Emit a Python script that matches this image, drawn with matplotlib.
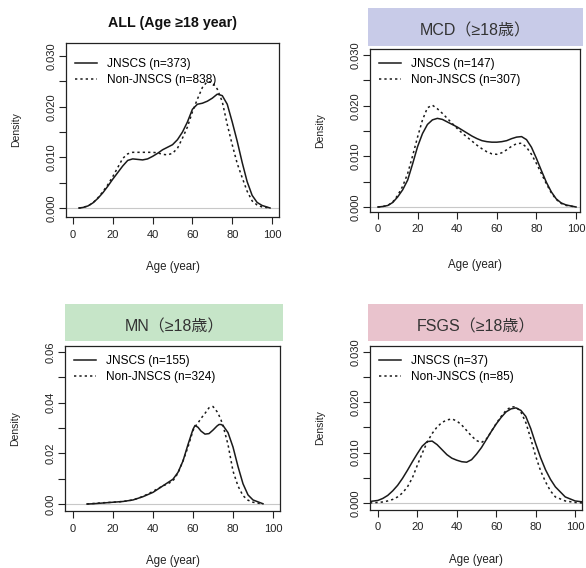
import matplotlib
matplotlib.use("Agg")
import matplotlib.pyplot as plt
from matplotlib.patches import Rectangle

plt.rcParams['font.family'] = ['Liberation Sans', 'DejaVu Sans']

W, H = 586, 568

# ---- data ----
all_age = [3, 5, 7.5, 10, 12.5, 15, 17.5, 20, 22.5, 25, 27.5, 30, 32.5, 35, 37.5, 40, 42.5, 45, 47.5, 50,
           52.5, 55, 57.5, 60, 62.5, 65, 67.5, 70, 72.5, 75, 77.5, 80, 82.5, 85, 87.5, 90, 92.5, 95, 99]
all_jn = [0.0, 0.0001, 0.0004, 0.001, 0.0019, 0.003, 0.0043, 0.0057, 0.007, 0.0083, 0.0094, 0.0097, 0.0096,
          0.0095, 0.0097, 0.0102, 0.0108, 0.0115, 0.012, 0.0125, 0.0135, 0.015, 0.017, 0.0195, 0.0205, 0.0207,
          0.0211, 0.0217, 0.0225, 0.0222, 0.0205, 0.017, 0.0132, 0.009, 0.0052, 0.0025, 0.0011, 0.0005, 0.0]
all_non = [0.0, 0.0001, 0.0004, 0.001, 0.002, 0.0032, 0.0046, 0.0062, 0.008, 0.0098, 0.0107, 0.011, 0.011,
           0.011, 0.011, 0.011, 0.0109, 0.0106, 0.0105, 0.0108, 0.0118, 0.0138, 0.016, 0.019, 0.0215, 0.0238,
           0.025, 0.0248, 0.0235, 0.021, 0.0165, 0.0125, 0.0088, 0.006, 0.0033, 0.0014, 0.0006, 0.0002, 0.0]

mcd_age = [0, 2.5, 5, 7.5, 10, 12.5, 15, 17.5, 20, 22.5, 25, 27.5, 30, 32.5, 35, 37.5, 40, 42.5, 45, 47.5,
           50, 52.5, 55, 57.5, 60, 62.5, 65, 67.5, 70, 72.5, 75, 77.5, 80, 82.5, 85, 87.5, 90, 92.5, 95, 100]
mcd_jn = [0.0, 0.0001, 0.0003, 0.0009, 0.002, 0.0034, 0.0053, 0.0085, 0.0119, 0.0145, 0.0163, 0.0172, 0.0175,
          0.0173, 0.0168, 0.0163, 0.0158, 0.0152, 0.0146, 0.014, 0.0135, 0.0131, 0.0129, 0.0128, 0.0128, 0.0129,
          0.0131, 0.0135, 0.0138, 0.0139, 0.0133, 0.0118, 0.0096, 0.0072, 0.0049, 0.003, 0.0016, 0.0008,
          0.0004, 0.0]
mcd_non = [0.0, 0.0001, 0.0003, 0.001, 0.0023, 0.0041, 0.0066, 0.0101, 0.0138, 0.0172, 0.0196, 0.0201, 0.0194,
           0.0185, 0.0175, 0.0165, 0.0155, 0.0146, 0.0138, 0.013, 0.0122, 0.0115, 0.0109, 0.0105, 0.0104, 0.0107,
           0.0113, 0.012, 0.0125, 0.0126, 0.0118, 0.0104, 0.0086, 0.0066, 0.0046, 0.0028, 0.0015, 0.0007,
           0.0003, 0.0]

mn_age = [7, 10, 15, 20, 25, 30, 35, 40, 45, 47.5, 50, 52.5, 55, 57.5, 60, 61, 62.5, 64, 66, 68, 70, 72, 73,
          74, 75, 77.5, 80, 82.5, 85, 87.5, 90, 95]
mn_jn = [0.0, 0.0001, 0.0004, 0.0007, 0.001, 0.0016, 0.0029, 0.0046, 0.0072, 0.0085, 0.0098, 0.0125, 0.017,
         0.0235, 0.0295, 0.031, 0.0303, 0.0288, 0.0276, 0.0278, 0.0292, 0.0308, 0.0314, 0.0314, 0.031, 0.0282,
         0.0225, 0.0148, 0.008, 0.0036, 0.0016, 0.0001]
mn_non = [0.0, 0.0002, 0.0005, 0.0007, 0.001, 0.0016, 0.003, 0.005, 0.0072, 0.008, 0.0092, 0.0122, 0.017,
          0.0225, 0.029, 0.0305, 0.032, 0.0338, 0.0358, 0.038, 0.0385, 0.0365, 0.035, 0.0332, 0.031, 0.0235,
          0.013, 0.0071, 0.0033, 0.0015, 0.0007, 0.0]

fsgs_age = [-4, 0, 2.5, 5, 7.5, 10, 12.5, 15, 17.5, 20, 22.5, 25, 27.5, 30, 32.5, 35, 37.5, 40, 42.5, 45,
            47.5, 50, 52.5, 55, 57.5, 60, 62.5, 65, 67.5, 70, 72.5, 75, 77.5, 80, 82.5, 85, 87.5, 90, 95,
            100, 104]
fsgs_jn = [0.0003, 0.0005, 0.0009, 0.0015, 0.0024, 0.0035, 0.0049, 0.0065, 0.0082, 0.0098, 0.0113, 0.0122,
           0.0123, 0.0116, 0.0106, 0.0096, 0.0089, 0.0085, 0.0082, 0.0081, 0.0086, 0.0097, 0.011, 0.0126,
           0.0142, 0.0157, 0.017, 0.0181, 0.0187, 0.0189, 0.0184, 0.0172, 0.0148, 0.0118, 0.009, 0.0066,
           0.0047, 0.0032, 0.0012, 0.0004, 0.0002]
fsgs_non = [0.0, 0.0001, 0.0002, 0.0004, 0.0007, 0.0012, 0.002, 0.0032, 0.005, 0.0075, 0.0099, 0.0121,
            0.0138, 0.0151, 0.016, 0.0165, 0.0167, 0.0163, 0.0155, 0.0144, 0.0133, 0.0124, 0.012, 0.0127,
            0.0142, 0.0158, 0.0172, 0.0184, 0.0191, 0.0191, 0.0181, 0.016, 0.0128, 0.0093, 0.0064, 0.0042,
            0.0024, 0.0012, 0.0004, 0.0001, 0.0]

titles = ["ALL (Age \u226518 year)", "MCD\uff08\u226518\u6b73\uff09", "MN\uff08\u226518\u6b73\uff09",
          "FSGS\uff08\u226518\u6b73\uff09"]
labels_jn = ["JNSCS (n=373)", "JNSCS (n=147)", "JNSCS (n=155)", "JNSCS (n=37)"]
labels_non = ["Non-JNSCS (n=838)", "Non-JNSCS (n=307)", "Non-JNSCS (n=324)", "Non-JNSCS (n=85)"]
band_colors = [None, "#c8cbe8", "#c6e5c8", "#e9c3cd"]

xticks = [0, 20, 40, 60, 80, 100]
yticks_a = [0.0, 0.005, 0.010, 0.015, 0.020, 0.025, 0.030]
ylabels_a = ["0.000", "", "0.010", "", "0.020", "", "0.030"]
yticks_b = [0.0, 0.01, 0.02, 0.03, 0.04, 0.05, 0.06]
ylabels_b = ["0.00", "", "0.02", "", "0.04", "", "0.06"]

# ---- layout, in pixels ----
boxes = [(66, 279, 43, 217), (370, 580, 49, 212), (65, 280, 346, 511), (370, 582, 346, 510)]
xlims = [(-3.5, 103.5), (-4.0, 102.0), (-4.0, 103.5), (-4.0, 103.5)]
ylims = [(-0.00178, 0.0326), (-0.00099, 0.0312), (-0.00276, 0.0624), (-0.0014, 0.0312)]
bands = [None, (368, 583, 8, 46), (65, 283, 304, 341), (368, 583, 304, 341)]
legend_top = [15, 9, 9, 9]
xlabel_y = [267, 265, 561, 560]

fig = plt.figure(figsize=(W / 100, H / 100), dpi=100)


def fx(px):
    return px / W


def fy(py):
    return 1 - py / H


panels = [(all_age, all_jn, all_non), (mcd_age, mcd_jn, mcd_non),
          (mn_age, mn_jn, mn_non), (fsgs_age, fsgs_jn, fsgs_non)]

for i, (ages, jn, non) in enumerate(panels):
    l, r, t, b = boxes[i]
    ax = fig.add_axes([fx(l), fy(b), fx(r) - fx(l), fy(t) - fy(b)])
    ax.axhline(0, color="#c8c8c8", lw=0.8, zorder=1)
    ax.plot(ages, jn, color="#1a1a1a", lw=1.1, label=labels_jn[i], zorder=3)
    ax.plot(ages, non, color="#1a1a1a", lw=1.1, ls=(0, (1.5, 2.0)), label=labels_non[i], zorder=3)
    ax.set_xlim(*xlims[i])
    ax.set_ylim(*ylims[i])
    ax.set_xticks(xticks)
    ax.set_xticklabels([str(v) for v in xticks])
    if i == 2:
        ax.set_yticks(yticks_b)
        ax.set_yticklabels(ylabels_b)
    else:
        ax.set_yticks(yticks_a)
        ax.set_yticklabels(ylabels_a)
    for lab in ax.get_yticklabels():
        lab.set_rotation(90)
        lab.set_va("center")
    ax.tick_params(direction="out", length=5, width=0.8, colors="#222222", labelsize=8, pad=2)
    ax.tick_params(axis="x", pad=4)
    for sp in ax.spines.values():
        sp.set_color("#222222")
        sp.set_linewidth(0.9)
    ax.legend(loc="upper left", bbox_to_anchor=(fx(l + 9), fy(t + legend_top[i])),
              bbox_transform=fig.transFigure, frameon=False, fontsize=8.6, handlelength=1.85,
              handletextpad=0.85, labelspacing=0.35, borderaxespad=0, borderpad=0)

    fig.text(fx((l + r) / 2), fy(xlabel_y[i]), "Age (year)", ha="center", va="center",
             fontsize=8.3, color="#222222")
    fig.text(fx(l - 50), fy((t + b) / 2), "Density", ha="center", va="center", rotation=90,
             fontsize=7.5, color="#222222")

    if bands[i] is None:
        fig.text(fx(173), fy(23), titles[i], ha="center", va="center", fontsize=10.3,
                 fontweight="bold", color="#111111")
    else:
        bl, br, bt, bb = bands[i]
        fig.patches.append(Rectangle((fx(bl), fy(bb)), fx(br) - fx(bl), fy(bt) - fy(bb),
                                     transform=fig.transFigure, facecolor=band_colors[i],
                                     edgecolor="none", zorder=0))
        fig.text(fx((bl + br) / 2), fy((bt + bb) / 2 + 4), titles[i], ha="center", va="center",
                 fontsize=11.5, color="#333333", family=["Liberation Sans", "Noto Sans CJK JP", "DejaVu Sans"])

fig.savefig("out.png", dpi=100)
